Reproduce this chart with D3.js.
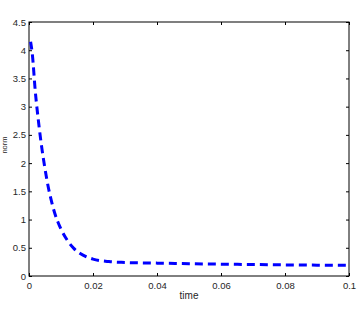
<!DOCTYPE html>
<html>
<head>
<meta charset="utf-8">
<script src="https://cdn.jsdelivr.net/npm/d3@7"></script>
<style>
  body { margin: 0; background: #fff; }
  svg { display: block; font-family: "Liberation Sans", Arial, sans-serif; }
</style>
</head>
<body>
<svg id="chart" width="361" height="314"></svg>
<script>
// values
var times = [0.0005, 0.001, 0.002, 0.003, 0.004, 0.005, 0.006, 0.007, 0.008, 0.009, 0.010,
             0.012, 0.014, 0.016, 0.018, 0.020, 0.025, 0.03, 0.04, 0.05, 0.06, 0.07, 0.08, 0.09, 0.1];
var norms = [4.15, 3.95, 3.25, 2.72, 2.27, 1.90, 1.58, 1.33, 1.12, 0.96, 0.83,
             0.63, 0.49, 0.40, 0.34, 0.30, 0.255, 0.24, 0.228, 0.218, 0.21, 0.203, 0.197, 0.192, 0.188];
var xTicks = [0, 0.02, 0.04, 0.06, 0.08, 0.1];
var xTickLabels = ["0", "0.02", "0.04", "0.06", "0.08", "0.1"];
var yTicks = [0, 0.5, 1, 1.5, 2, 2.5, 3, 3.5, 4, 4.5];
var yTickLabels = ["0", "0.5", "1", "1.5", "2", "2.5", "3", "3.5", "4", "4.5"];

(function() {
var svg = d3.select("#chart");
var pl = 29, pr = 349, pt = 22, pb = 276;

var x = d3.scaleLinear().domain([0, 0.1]).range([pl, pr]);
var y = d3.scaleLinear().domain([0, 4.5]).range([pb, pt]);

var tickLen = 3;
var txtColor = "#262626";

// bottom axis
var xAxis = d3.axisBottom(x).tickValues(xTicks)
  .tickFormat(function(d, i) { return xTickLabels[i]; })
  .tickSizeInner(-tickLen).tickSizeOuter(0).tickPadding(6);
var gx = svg.append("g").attr("transform", "translate(0," + pb + ")").call(xAxis);
gx.select(".domain").remove();
gx.selectAll("line").attr("stroke", "#000");
gx.selectAll("text").attr("font-size", 9.5).attr("fill", txtColor);

// top ticks
var gxt = svg.append("g").attr("transform", "translate(0," + pt + ")")
  .call(d3.axisTop(x).tickValues(xTicks).tickSizeInner(-tickLen).tickSizeOuter(0).tickFormat(""));
gxt.select(".domain").remove();
gxt.selectAll("line").attr("stroke", "#000");

// left axis
var yAxis = d3.axisLeft(y).tickValues(yTicks)
  .tickFormat(function(d, i) { return yTickLabels[i]; })
  .tickSizeInner(-tickLen).tickSizeOuter(0).tickPadding(3);
var gy = svg.append("g").attr("transform", "translate(" + pl + ",0)").call(yAxis);
gy.select(".domain").remove();
gy.selectAll("line").attr("stroke", "#000");
gy.selectAll("text").attr("font-size", 9.5).attr("fill", txtColor);

// right ticks
var gyr = svg.append("g").attr("transform", "translate(" + pr + ",0)")
  .call(d3.axisRight(y).tickValues(yTicks).tickSizeInner(-tickLen).tickSizeOuter(0).tickFormat(""));
gyr.select(".domain").remove();
gyr.selectAll("line").attr("stroke", "#000");

// box
svg.append("rect")
  .attr("x", pl).attr("y", pt)
  .attr("width", pr - pl).attr("height", pb - pt)
  .attr("fill", "none").attr("stroke", "#000").attr("stroke-width", 1);

// line
var line = d3.line()
  .x(function(d, i) { return x(times[i]); })
  .y(function(d) { return y(d); })
  .curve(d3.curveMonotoneX);

svg.append("path")
  .datum(norms)
  .attr("d", line)
  .attr("fill", "none")
  .attr("stroke", "#0000ff")
  .attr("stroke-width", 3)
  .attr("stroke-dasharray", "8,5");

// axis labels
svg.append("text")
  .attr("x", 189).attr("y", 299)
  .attr("text-anchor", "middle").attr("font-size", 10).attr("fill", txtColor)
  .text("time");

svg.append("text")
  .attr("transform", "translate(7,145) rotate(-90)")
  .attr("text-anchor", "middle").attr("font-size", 7.5).attr("fill", txtColor)
  .text("norm");
})();
</script>
</body>
</html>
